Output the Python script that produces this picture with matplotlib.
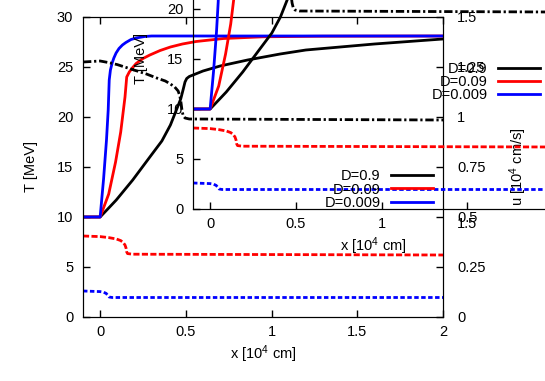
import matplotlib
matplotlib.use('Agg')
import matplotlib.pyplot as plt
from matplotlib.ticker import FormatStrFormatter
from matplotlib.lines import Line2D

plt.rcParams['font.family'] = ['Liberation Sans', 'DejaVu Sans']
plt.rcParams['font.size'] = 10.5
plt.rcParams['mathtext.fontset'] = 'custom'
plt.rcParams['mathtext.rm'] = 'Liberation Sans'
plt.rcParams['mathtext.it'] = 'Liberation Sans:italic'

labels = ['D=0.9', 'D=0.09', 'D=0.009']
colors = ['black', 'red', 'blue']

# temperature T [MeV] vs x [10^4 cm]
x_T_09 = [-0.1, 0, 0.05, 0.094, 0.19, 0.29, 0.36, 0.41, 0.44, 0.47, 0.485,
          0.495, 0.505, 0.52, 0.6, 0.7, 0.86, 1.05, 1.2, 1.6, 2.0]
T_09 = [10, 10, 10.9, 11.7, 13.7, 16.0, 17.6, 19.2, 20.5, 21.8, 22.8,
        23.5, 23.85, 24.05, 24.6, 25.1, 25.7, 26.3, 26.7, 27.3, 27.8]

x_T_009 = [-0.1, 0, 0.05, 0.09, 0.12, 0.145, 0.155, 0.17, 0.19, 0.21, 0.25,
           0.29, 0.35, 0.41, 0.48, 0.56, 0.72, 0.95, 1.3, 2.0]
T_009 = [10, 10, 12.3, 15.5, 18.5, 22.0, 24.0, 24.5, 24.95, 25.35, 25.85,
         26.2, 26.65, 27.0, 27.3, 27.55, 27.85, 28.02, 28.08, 28.1]

x_T_0009 = [-0.1, 0, 0.02, 0.037, 0.047, 0.053, 0.06, 0.07, 0.08, 0.093,
            0.11, 0.13, 0.15, 0.18, 0.21, 0.26, 0.3, 2.0]
T_0009 = [10, 10, 13.8, 17.7, 20.7, 23.7, 24.7, 25.4, 25.9, 26.4,
          26.85, 27.2, 27.45, 27.75, 27.9, 28.05, 28.1, 28.1]

# velocity u [10^4 cm/s] vs x
x_u_09 = [-0.1, 0, 0.05, 0.1, 0.19, 0.27, 0.33, 0.38, 0.41, 0.435, 0.455,
          0.465, 0.472, 0.478, 0.485, 0.495, 0.52, 2.0]
u_09 = [1.275, 1.28, 1.272, 1.262, 1.237, 1.215, 1.195, 1.18, 1.165, 1.15,
        1.13, 1.105, 1.07, 1.03, 1.005, 0.995, 0.99, 0.985]

x_u_009 = [-0.1, 0, 0.05, 0.095, 0.12, 0.134, 0.145, 0.151, 0.155, 0.16,
           0.19, 2.0]
u_009 = [0.405, 0.402, 0.397, 0.39, 0.382, 0.373, 0.36, 0.345, 0.325, 0.317,
         0.314, 0.31]

x_u_0009 = [-0.1, 0, 0.02, 0.035, 0.045, 0.052, 0.07, 2.0]
u_0009 = [0.13, 0.127, 0.124, 0.118, 0.108, 0.1, 0.0975, 0.0975]

x_ticks = [0, 0.5, 1, 1.5, 2]
T_ticks = [0, 5, 10, 15, 20, 25, 30]
u_ticks = [0, 0.25, 0.5, 0.75, 1, 1.25, 1.5]

T_curves = [(x_T_09, T_09), (x_T_009, T_009), (x_T_0009, T_0009)]
u_curves = [(x_u_09, u_09), (x_u_009, u_009), (x_u_0009, u_0009)]
u_dashes = [(3, 1, 0.8, 1), (2.2, 0.85), (1.6, 0.9)]

W, H = 545, 381
fig = plt.figure(figsize=(W / 100, H / 100), dpi=100)


def panel(left, bottom, key_x, key_y):
    ax = fig.add_axes([left / W, bottom / H, 360 / W, 300 / H])
    ax.patch.set_visible(False)
    ax2 = ax.twinx()
    for (xs, ts), c, lab in zip(T_curves, colors, labels):
        ax.plot(xs, ts, color=c, lw=2, label=lab)
    for (xs, us), c, d in zip(u_curves, colors, u_dashes):
        ax2.plot(xs, us, color=c, lw=2, dashes=d, dash_capstyle='butt')
    ax.set_xlim(-0.1, 2)
    ax.set_ylim(0, 30)
    ax2.set_ylim(0, 1.5)
    ax.set_xticks(x_ticks)
    ax.set_yticks(T_ticks)
    ax2.set_yticks(u_ticks)
    fmt = FormatStrFormatter('%g')
    ax.xaxis.set_major_formatter(fmt)
    ax.yaxis.set_major_formatter(fmt)
    ax2.yaxis.set_major_formatter(fmt)
    ax.tick_params(axis='x', direction='in', top=True, length=5, width=1, pad=6)
    ax.tick_params(axis='y', direction='in', length=5, width=1, pad=7)
    ax2.tick_params(axis='y', direction='in', length=5, width=1, pad=10)
    ax.set_xlabel('x [10$^4$ cm]')
    ax.set_ylabel('T [MeV]')
    ax2.set_ylabel('u [10$^4$ cm/s]')
    ax.xaxis.set_label_coords(0.5, -0.087)
    ax.yaxis.set_label_coords(-0.125, 0.5)
    ax2.yaxis.set_label_coords(1.18, 0.5)
    handles = [Line2D([], [], color=c, lw=2) for c in colors]
    fig.legend(handles, labels, loc='center right',
               bbox_to_anchor=(key_x / W, 1 - key_y / H), frameon=False,
               markerfirst=False, handlelength=2.9, handletextpad=0.7,
               labelspacing=-0.05, borderpad=0, borderaxespad=0)
    return ax


# main plot, then the shifted copy drawn over it
panel(83, 64, 540, 82)
panel(193, 172, 433, 189.5)

fig.savefig('out.png', dpi=100)
